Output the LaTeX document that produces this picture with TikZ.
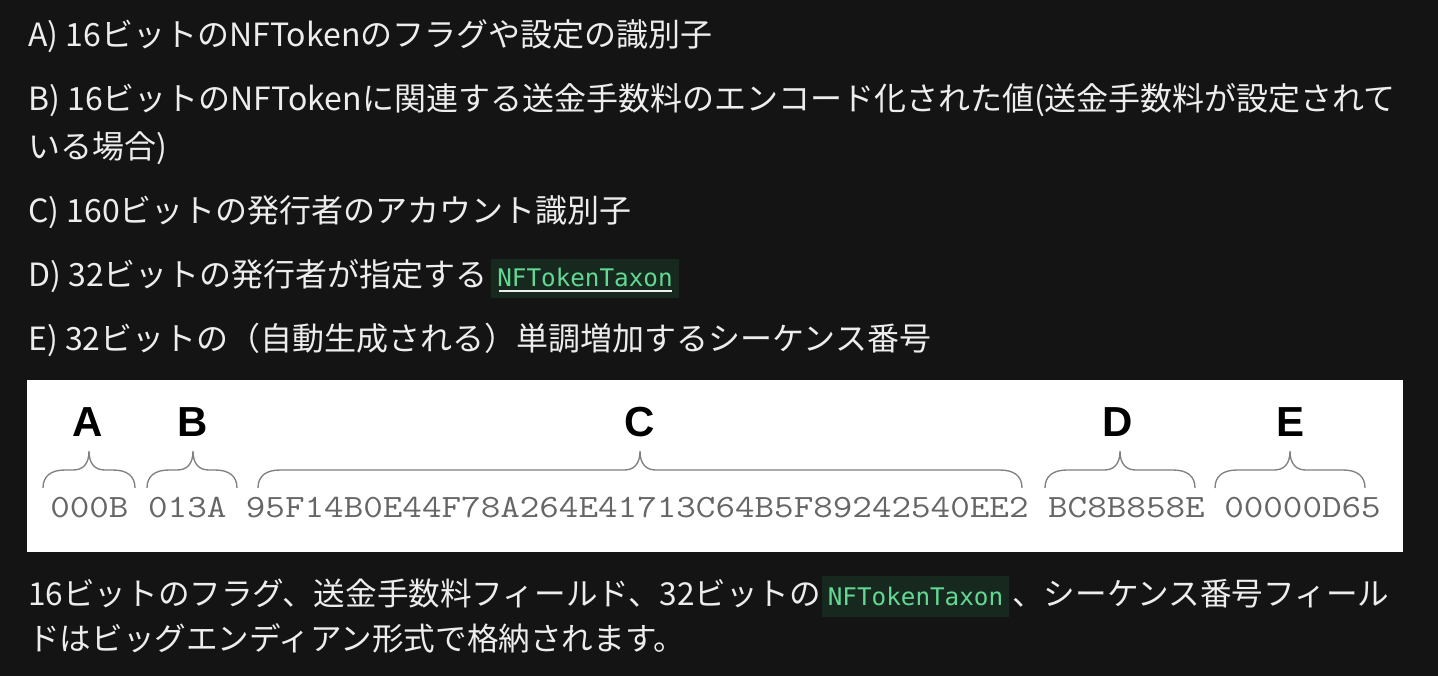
\documentclass[tikz,border=0pt]{standalone}
\usepackage{fontspec}
\setmainfont{Noto Sans CJK JP}
\newfontfamily\codefont{DejaVu Sans Mono}
\newfontfamily\labfont{Liberation Sans}
\definecolor{bg}{HTML}{141414}
\definecolor{fg}{HTML}{EDEDED}
\definecolor{codebg}{HTML}{17291E}
\definecolor{codefg}{HTML}{62D893}
\definecolor{hexgray}{HTML}{666666}
\definecolor{bracegray}{HTML}{808080}
\tikzset{
  txt/.style={anchor=west, inner sep=0pt, text=fg, font=\fontsize{24pt}{28pt}\selectfont},
  txtb/.style={anchor=west, inner sep=0pt, text=fg, font=\fontsize{23.7pt}{28pt}\selectfont},
  codebox/.style={fill=codebg, draw=none},
  codetxt/.style={inner sep=0pt, text=codefg, font=\codefont\fontsize{18.2pt}{22pt}\selectfont},
  lab/.style={inner sep=0pt, text=black, font=\labfont\bfseries\fontsize{31.5pt}{36pt}\selectfont},
  hex/.style={anchor=west, inner sep=0pt, text=hexgray, font=\ttfamily\fontsize{24.4pt}{28pt}\selectfont},
  brc/.style={draw=bracegray, line width=1pt}
}
\newcommand{\mybrace}[3]{%
  \draw[brc] (#1,488) .. controls (#1,476) and (#1+8,470) .. (#1+22,470)
    -- (#2-16,470) .. controls (#2-6,470) and (#2,464) .. (#2,451)
    .. controls (#2,464) and (#2+6,470) .. (#2+16,470)
    -- (#3-22,470) .. controls (#3-8,470) and (#3,476) .. (#3,488);}
\begin{document}
\begin{tikzpicture}[x=0.75pt, y=-0.75pt]
\fill[bg] (0,0) rectangle (1438,676);
\useasboundingbox (0,0) rectangle (1438,676);

\node[txt] (la) at (28,36) {A) 16ビットのNFTokenのフラグや設定の識別子};
\node[txt] (lb) at (28,100) {B) 16ビットのNFTokenに関連する送金手数料のエンコード化された値(送金手数料が設定されて};
\node[txt] (lb2) at (28,148) {いる場合)};
\node[txt] (lc) at (28,212) {C) 160ビットの発行者のアカウント識別子};
\node[txt] (ld) at (28,276) {D) 32ビットの発行者が指定する};
\fill[codebox] (491,259) rectangle (679,298);
\node[codetxt] (ldcode) at (585,277) {NFTokenTaxon};
\draw[fg, line width=1.5pt] (499,291) -- (672,291);
\node[txt] (le) at (28,340) {E) 32ビットの（自動生成される）単調増加するシーケンス番号};

% image
\fill[white] (27,380) rectangle (1403,552);
\node[lab] (A) at (88,422) {A};
\node[lab] (B) at (193,422) {B};
\node[lab] (C) at (640,422) {C};
\node[lab] (D) at (1118,422) {D};
\node[lab] (E) at (1290,422) {E};
\mybrace{43}{89}{135}
\mybrace{147}{193}{237}
\mybrace{258}{640}{1022}
\mybrace{1045}{1120}{1195}
\mybrace{1215}{1290}{1365}
\node[hex] (hexs) at (50,508) {\scalebox{1.168}[1]{000B 013A 95F14B0E44F78A264E41713C64B5F89242540EE2 BC8B858E 00000D65}};

% bottom paragraph
\node[txtb] (lf) at (28,594) {16ビットのフラグ、送金手数料フィールド、32ビットの};
\fill[codebox] (822,576) rectangle (1009,617);
\node[codetxt] (lfcode) at (915.5,596) {NFTokenTaxon};
\node[txtb] (lf2) at (1012,594) {、シーケンス番号フィール};
\node[txtb] (lg) at (28,638) {ドはビッグエンディアン形式で格納されます。};
\end{tikzpicture}
\end{document}
